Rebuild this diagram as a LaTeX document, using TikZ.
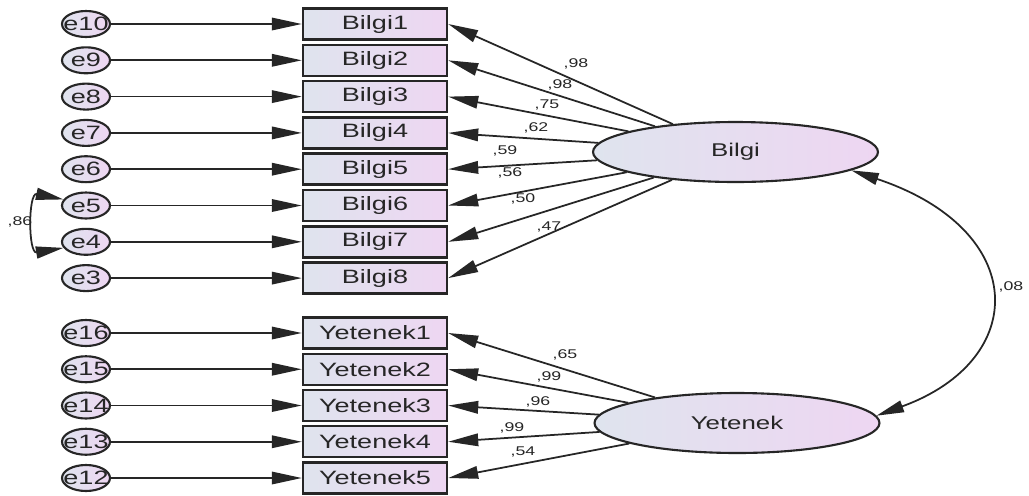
\documentclass[tikz,border=0pt]{standalone}
\usepackage{fontspec}
\setmainfont{Liberation Sans}
\usetikzlibrary{arrows.meta,shapes.geometric}
\definecolor{fillL}{HTML}{DFE4EE}
\definecolor{fillR}{HTML}{EED6F2}
\definecolor{ink}{HTML}{262626}
% widened sans text: size in pt, then the text
\newcommand{\wtxt}[2]{\scalebox{1.4}[1]{\fontsize{#1}{#1}\selectfont #2}}
\tikzset{
  obsbox/.style={rectangle, draw=ink, line width=1.4pt, left color=fillL, right color=fillR,
    minimum width=2.88cm, minimum height=0.62cm, inner sep=0pt, text=ink},
  errnode/.style={ellipse, draw=ink, line width=1.2pt, left color=fillL, right color=fillR,
    minimum width=0.96cm, minimum height=0.52cm, inner sep=0pt, text=ink},
  latent/.style={ellipse, draw=ink, line width=1.2pt, left color=fillL, right color=fillR,
    minimum width=5.7cm, minimum height=1.2cm, inner sep=0pt, text=ink},
  regarrow/.style={draw=ink, line width=1pt, -{Triangle[length=0.6cm,width=0.25cm]}},
  covarrow/.style={draw=ink, line width=1pt, {Triangle[length=0.55cm,width=0.24cm]}-{Triangle[length=0.55cm,width=0.24cm]}},
  lbl/.style={text=ink, inner sep=0pt}
}
\begin{document}
\begin{tikzpicture}[x=0.02cm,y=-0.02cm]
\useasboundingbox[fill=white] (0,0) rectangle (1029,495);

% latent variables
\node[latent] (bilgi) at (735.5,152) {\wtxt{10.5}{Bilgi}};
\node[latent] (yetenek) at (737,423) {\wtxt{10.5}{Yetenek}};

% Bilgi indicators with their error terms
\foreach \i/\e in {1/10,2/9,3/8,4/7,5/6,6/5,7/4,8/3} {
  \node[obsbox] (b\i) at (375,{24+36.3*(\i-1)}) {\wtxt{11}{Bilgi\i}};
  \node[errnode] (e\e) at (86,{24+36.3*(\i-1)}) {\makebox[0pt]{\wtxt{11}{e\e}}};
  \draw[regarrow] (e\e) -- (b\i);
}

% Yetenek indicators with their error terms
\foreach \i/\e in {1/16,2/15,3/14,4/13,5/12} {
  \node[obsbox] (y\i) at (375,{333+36.25*(\i-1)}) {\wtxt{11}{Yetenek\i}};
  \node[errnode] (e\e) at (86,{333+36.25*(\i-1)}) {\makebox[0pt]{\wtxt{11}{e\e}}};
  \draw[regarrow] (e\e) -- (y\i);
}

% factor loadings
\foreach \i/\v/\lx/\ly in {1/98/576/64,2/98/560/85,3/75/547/105,4/62/536/128,
                           5/59/505/151,6/56/510/173,7/50/523/199,8/47/549/227} {
  \draw[regarrow] (bilgi) -- (b\i.east);
  \node[lbl] (lb\i) at (\lx,\ly) {\wtxt{7.2}{,\v}};
}
\foreach \i/\v/\lx/\ly in {1/65/565/355,2/99/549/377,3/96/538/402,4/99/512/428,5/54/523/452} {
  \draw[regarrow] (yetenek) -- (y\i.east);
  \node[lbl] (ly\i) at (\lx,\ly) {\wtxt{7.2}{,\v}};
}

% covariances
\draw[covarrow] (e5.165) .. controls (28,192) and (28,254) .. (e4.195);
\node[lbl] (c86) at (20,222) {\wtxt{7.2}{,86}};
\draw[covarrow] (bilgi.-9) .. controls (1030,230) and (1030,360) .. (yetenek.3);
\node[lbl] (c08) at (1011,287) {\wtxt{7.2}{,08}};
\end{tikzpicture}
\end{document}
